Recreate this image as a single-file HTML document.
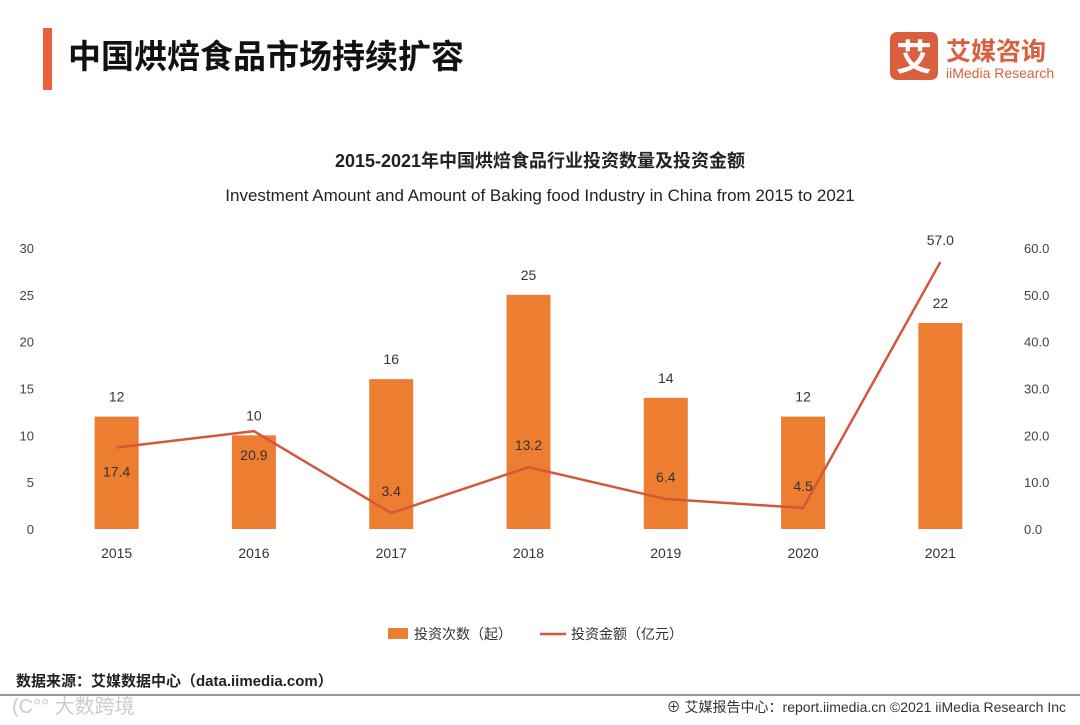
<!DOCTYPE html>
<html><head><meta charset="utf-8"><style>
body{margin:0;width:1080px;height:720px;background:#fff;overflow:hidden;font-family:"Liberation Sans","Noto Sans CJK SC",sans-serif;}
</style></head><body>
<svg width="1080" height="720" xmlns="http://www.w3.org/2000/svg" font-family="Liberation Sans, Noto Sans CJK SC, sans-serif">
<rect x="43" y="28" width="9" height="62" fill="#E8603C"/>
<text x="68" y="68" font-size="33" font-weight="bold" fill="#111">中国烘焙食品市场持续扩容</text>
<g>
<rect x="890" y="32" width="48" height="48" rx="7" fill="#D9603F"/>
<text x="914" y="70" font-size="36" font-weight="bold" fill="#fff" text-anchor="middle">艾</text>
<text x="946" y="60" font-size="25" font-weight="bold" fill="#D9603F">艾媒咨询</text>
<text x="946" y="78" font-size="14" fill="#D9603F">iiMedia Research</text>
</g>
<text x="540" y="167" font-size="18" font-weight="bold" fill="#222" text-anchor="middle">2015-2021年中国烘焙食品行业投资数量及投资金额</text>
<text x="540" y="201" font-size="17" fill="#222" text-anchor="middle">Investment Amount and Amount of Baking food Industry in China from 2015 to 2021</text>
<g id="chart"></g>
<g>
<rect x="388" y="628" width="20" height="11" fill="#ED7D31"/>
<text x="414" y="639" font-size="14" fill="#333">投资次数（起）</text>
<line x1="540" y1="634" x2="566" y2="634" stroke="#D4573A" stroke-width="2.5"/>
<text x="571" y="639" font-size="14" fill="#333">投资金额（亿元）</text>
</g>
<text x="16" y="686" font-size="15" font-weight="bold" fill="#222">数据来源：艾媒数据中心（data.iimedia.com）</text>
<line x1="0" y1="695" x2="1080" y2="695" stroke="#777" stroke-width="1.5"/>
<text x="12" y="713" font-size="20" fill="#ccc">(C°° 大数跨境</text>
<text x="1066" y="712" font-size="14" fill="#333" text-anchor="end">⊕ 艾媒报告中心：report.iimedia.cn   ©2021  iiMedia Research  Inc</text>
</svg>
<script>
const categories=["2015","2016","2017","2018","2019","2020","2021"];
const counts=[12,10,16,25,14,12,22];
const amounts=[17.4,20.9,3.4,13.2,6.4,4.5,57.0];
const leftTicks=[0,5,10,15,20,25,30];
const rightTicks=[0,10,20,30,40,50,60];
const labelBelow=[true,true,false,false,false,false,false];
const NS="http://www.w3.org/2000/svg";
const g=document.getElementById('chart');
const x0=48,x1=1009,y0=529,yTop=248;
const band=(x1-x0)/categories.length;
const xc=i=>x0+band*(i+0.5);
const yL=v=>y0-(v/30)*(y0-yTop);
const yR=v=>y0-(v/60)*(y0-yTop);
function mk(t,a,txt){const e=document.createElementNS(NS,t);for(const k in a)e.setAttribute(k,a[k]);if(txt!==undefined)e.textContent=txt;g.appendChild(e);return e;}
leftTicks.forEach(v=>{const e=mk('text',{x:34,y:yL(v)+5,'font-size':13,fill:'#444','text-anchor':'end'},v);

});
rightTicks.forEach(v=>{const e=mk('text',{x:1024,y:yR(v)+5,'font-size':13,fill:'#444'},v.toFixed(1));

});
categories.forEach((c,i)=>{
const e=mk('text',{x:xc(i),y:558,'font-size':14,fill:'#333','text-anchor':'middle'},c);


const b=mk('rect',{x:xc(i)-22,y:yL(counts[i]),width:44,height:y0-yL(counts[i]),fill:'#ED7D31'});


const l=mk('text',{x:xc(i),y:yL(counts[i])-15,'font-size':14,fill:'#333','text-anchor':'middle'},counts[i]);


});
const pts=amounts.map((v,i)=>xc(i)+','+yR(v)).join(' ');
const pl=mk('polyline',{points:pts,fill:'none',stroke:'#D4573A','stroke-width':2.5});


amounts.forEach((v,i)=>{
const y=labelBelow[i]?yR(v)+29:yR(v)-17;
const t=mk('text',{x:xc(i),y:y,'font-size':14,fill:'#333','text-anchor':'middle'},v.toFixed(1));


});
</script>
</body></html>
